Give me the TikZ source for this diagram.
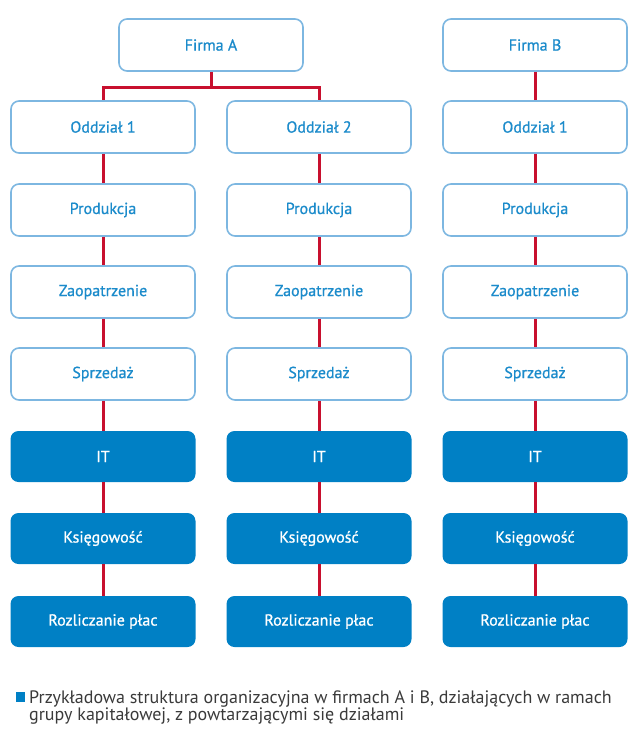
\documentclass[tikz,border=0pt]{standalone}
\usepackage{fontspec}
\setmainfont{PT Sans}
\newfontface\boxfont[FakeBold=0.8]{PT Sans}

\definecolor{boxblue}{HTML}{0080C5}
\definecolor{lineblue}{HTML}{7DB7E1}
\definecolor{textblue}{HTML}{1B8BCB}
\definecolor{linkred}{HTML}{C8102E}
\definecolor{captiongray}{HTML}{3A3A3A}

\begin{document}
\begin{tikzpicture}[x=1pt,y=-1pt,
  dept/.style={draw=lineblue,line width=1.6pt,rounded corners=8pt,fill=white,
    text=textblue,minimum width=184pt,minimum height=52pt,
    font=\boxfont\fontsize{16}{18}\selectfont},
  shared/.style={fill=boxblue,rounded corners=8pt,text=white,
    minimum width=185pt,minimum height=51pt,
    font=\boxfont\fontsize{16}{18}\selectfont},
  link/.style={draw=linkred,line width=3pt}]

\useasboundingbox (0,0) rectangle (644,744);

% firmy
\node[dept] (firmaA) at (211,45) {Firma A};
\node[dept] (firmaB) at (535,45) {Firma B};

% firma A, oddzial 1
\node[dept] (oddA1) at (103,127) {Oddział 1};
\node[dept] (prodA1) at (103,210) {Produkcja};
\node[dept] (zaopA1) at (103,292) {Zaopatrzenie};
\node[dept] (sprzA1) at (103,374) {Sprzedaż};
\node[shared] (itA1) at (103,456.5) {IT};
\node[shared] (ksA1) at (103,538.5) {Księgowość};
\node[shared] (rpA1) at (103,621.5) {Rozliczanie płac};

% firma A, oddzial 2
\node[dept] (oddA2) at (319,127) {Oddział 2};
\node[dept] (prodA2) at (319,210) {Produkcja};
\node[dept] (zaopA2) at (319,292) {Zaopatrzenie};
\node[dept] (sprzA2) at (319,374) {Sprzedaż};
\node[shared] (itA2) at (319,456.5) {IT};
\node[shared] (ksA2) at (319,538.5) {Księgowość};
\node[shared] (rpA2) at (319,621.5) {Rozliczanie płac};

% firma B
\node[dept] (oddB) at (535,127) {Oddział 1};
\node[dept] (prodB) at (535,210) {Produkcja};
\node[dept] (zaopB) at (535,292) {Zaopatrzenie};
\node[dept] (sprzB) at (535,374) {Sprzedaż};
\node[shared] (itB) at (535,456.5) {IT};
\node[shared] (ksB) at (535,538.5) {Księgowość};
\node[shared] (rpB) at (535,621.5) {Rozliczanie płac};

% polaczenia
\coordinate (splitA) at (211,87);
\draw[link] (firmaA) -- (splitA);
\draw[link] (splitA) -| (oddA1);
\draw[link] (splitA) -| (oddA2);
\draw[link] (firmaB) -- (oddB);

\draw[link] (oddA1) -- (prodA1) (prodA1) -- (zaopA1) (zaopA1) -- (sprzA1)
  (sprzA1) -- (itA1) (itA1) -- (ksA1) (ksA1) -- (rpA1);
\draw[link] (oddA2) -- (prodA2) (prodA2) -- (zaopA2) (zaopA2) -- (sprzA2)
  (sprzA2) -- (itA2) (itA2) -- (ksA2) (ksA2) -- (rpA2);
\draw[link] (oddB) -- (prodB) (prodB) -- (zaopB) (zaopB) -- (sprzB)
  (sprzB) -- (itB) (itB) -- (ksB) (ksB) -- (rpB);

% podpis
\fill[boxblue] (16,692) rectangle (25,702);
\node[anchor=base west,inner sep=0pt,align=left,text=captiongray,
  font=\fontsize{18}{17}\selectfont] (caption) at (29,720)
  {Przykładowa struktura organizacyjna w firmach A i B, działających w ramach\\
   grupy kapitałowej, z powtarzającymi się działami};

\end{tikzpicture}
\end{document}
